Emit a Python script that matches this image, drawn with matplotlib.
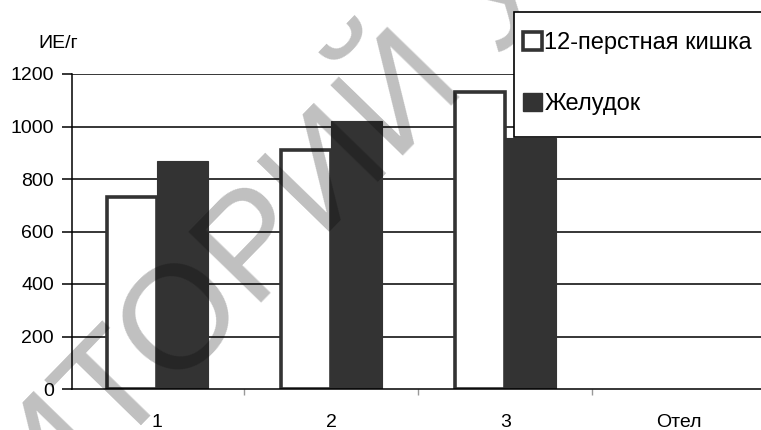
import matplotlib.pyplot as plt
import numpy as np
from matplotlib.patches import Patch, Rectangle

plt.rcParams['font.family'] = ['Liberation Sans', 'DejaVu Sans']

# activity by section, IU/g
categories = ["1", "2", "3", "Отел"]
duodenum = [730, 910, 1130, np.nan]
stomach = [870, 1020, 955, np.nan]
series_names = ["12-перстная кишка", "Желудок"]
y_ticks = [0, 200, 400, 600, 800, 1000, 1200]

dark = "#333333"

fig = plt.figure(figsize=(7.61, 4.30), dpi=100)
ax = fig.add_axes([72 / 761, 41 / 430, 689 / 761, 315 / 430])

x = np.arange(len(categories))
w = 0.29
ax.bar(x - w / 2, duodenum, w, color="white", edgecolor=dark, linewidth=2.6, zorder=3)
ax.bar(x + w / 2, stomach, w, color=dark, edgecolor=dark, linewidth=0.8, zorder=3)

for v in y_ticks[1:]:
    ax.axhline(v, color="black", linewidth=1.1, zorder=2)

ax.set_xlim(-0.49, 3.47)
ax.set_ylim(0, 1200)
ax.set_yticks(y_ticks)
ax.set_xticks(x)
ax.set_xticklabels(categories)
ax.set_xticks(x[:-1] + 0.5, minor=True)

ax.tick_params(axis="y", length=7, width=1.1, pad=6, labelsize=14, direction="out")
ax.tick_params(axis="x", which="major", length=0, pad=18, labelsize=14)
ax.tick_params(axis="x", which="minor", length=4, width=1, color="#999999")

for s in ["top", "right"]:
    ax.spines[s].set_visible(False)
for s in ["left", "bottom"]:
    ax.spines[s].set_linewidth(1.1)
    ax.spines[s].set_zorder(4)

fig.text(38 / 761, 1 - 43 / 430, "ИЕ/г", fontsize=14, va="center", ha="left")

# translucent diagonal stamp over the plot
ax.text(41 / 761, -0.229, "ИТОРИЙ У", transform=fig.transFigure,
        fontsize=106, color="black", alpha=0.25,
        rotation=45.8, rotation_mode="anchor", ha="left", va="baseline",
        zorder=5, clip_on=False)

# legend box runs off the right edge
fig.patches.append(Rectangle((514 / 761, 1 - 137 / 430), 300 / 761, 125 / 430,
                             transform=fig.transFigure, facecolor="white",
                             edgecolor="black", linewidth=1.2, zorder=1))

handles = [Patch(facecolor="white", edgecolor=dark, linewidth=2.6),
           Patch(facecolor=dark, edgecolor=dark)]
fig.legend(handles, series_names, loc="upper left",
           bbox_to_anchor=(523 / 761, 1 - 32 / 430),
           fontsize=17, frameon=False, handlelength=0.8, handleheight=0.8,
           handletextpad=0.1, borderpad=0, labelspacing=1.65,
           borderaxespad=0)

fig.savefig("out.png", dpi=100)
